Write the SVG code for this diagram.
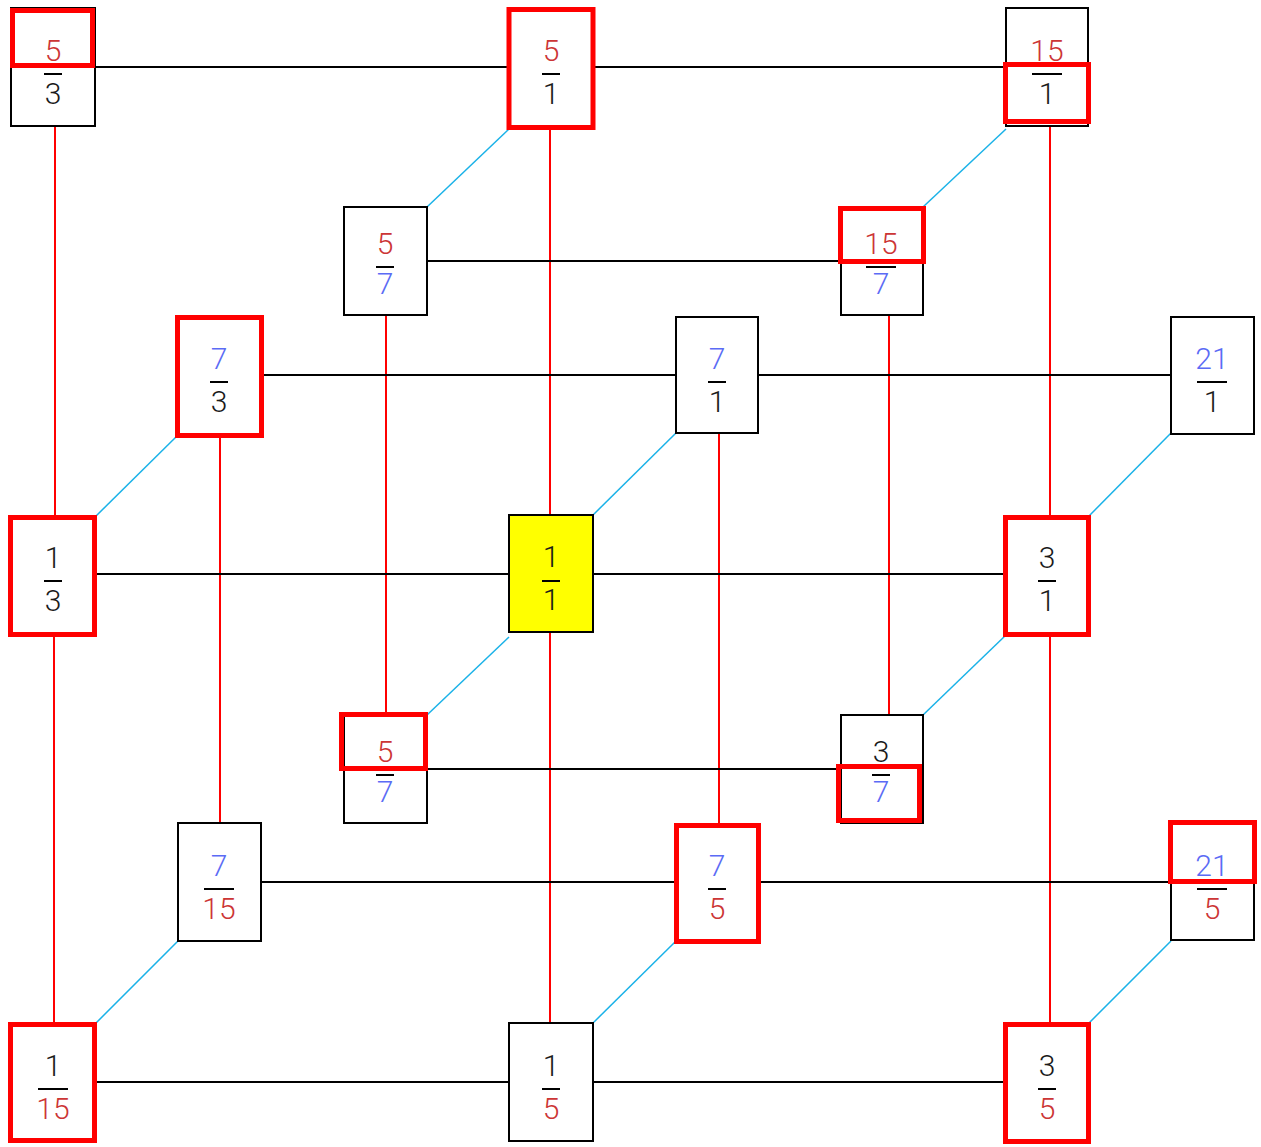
<svg xmlns="http://www.w3.org/2000/svg" width="1261" height="1147" viewBox="0 0 1261 1147">
<style>
  .box{fill:#ffffff;stroke:#000000;stroke-width:2}
  .yel{fill:#ffff00;stroke:#000000;stroke-width:2}
  .hl{fill:none;stroke:#ff0000;stroke-width:5}
  .h{stroke:#000000;stroke-width:2}
  .v{stroke:#ff0000;stroke-width:2}
  .d{stroke:#1ab2e8;stroke-width:1.5}
  .bar{stroke:#000000;stroke-width:2}
  text{font-family:Roboto,"Liberation Sans",sans-serif;font-weight:300;font-size:30px;text-anchor:middle}
  .k{fill:#1a1a1a}
  .r{fill:#cc3535}
  .b{fill:#5b6bf5}
</style>
<rect width="1261" height="1147" fill="#ffffff"/>
<g id="connectors">
  <line class="v" x1="55" y1="126" x2="55" y2="517"/>
  <line class="v" x1="54" y1="635" x2="54" y2="1024"/>
  <line class="v" x1="550" y1="128" x2="550" y2="515"/>
  <line class="v" x1="550" y1="632" x2="550" y2="1023"/>
  <line class="v" x1="1050" y1="126" x2="1050" y2="517"/>
  <line class="v" x1="1050" y1="635" x2="1050" y2="1024"/>
  <line class="v" x1="386" y1="315" x2="386" y2="715"/>
  <line class="v" x1="889" y1="315" x2="889" y2="715"/>
  <line class="v" x1="220" y1="435" x2="220" y2="823"/>
  <line class="v" x1="719" y1="433" x2="719" y2="823"/>
  <line class="h" x1="95" y1="67" x2="1006" y2="67"/>
  <line class="h" x1="427" y1="261" x2="841" y2="261"/>
  <line class="h" x1="261" y1="375" x2="1171" y2="375"/>
  <line class="h" x1="95" y1="574" x2="1006" y2="574"/>
  <line class="h" x1="427" y1="769" x2="841" y2="769"/>
  <line class="h" x1="261" y1="882" x2="1171" y2="882"/>
  <line class="h" x1="95" y1="1082" x2="1006" y2="1082"/>
  <line class="d" x1="95" y1="517" x2="178" y2="435"/>
  <line class="d" x1="509" y1="129" x2="427" y2="207"/>
  <line class="d" x1="1006" y1="129" x2="923" y2="207"/>
  <line class="d" x1="593" y1="515" x2="676" y2="433"/>
  <line class="d" x1="1088" y1="517" x2="1171" y2="433"/>
  <line class="d" x1="509" y1="637" x2="427" y2="715"/>
  <line class="d" x1="1006" y1="635" x2="923" y2="715"/>
  <line class="d" x1="95" y1="1024" x2="178" y2="941"/>
  <line class="d" x1="593" y1="1023" x2="676" y2="941"/>
  <line class="d" x1="1088" y1="1024" x2="1171" y2="941"/>
</g>
<g id="n-5-3">
  <rect class="box" x="11" y="8" width="84" height="118"/>
  <text class="r" x="53" y="61">5</text>
  <line class="bar" x1="44" y1="74" x2="62" y2="74"/>
  <text class="k" x="53" y="104">3</text>
</g>
<g id="n-5-1">
  <rect class="box" x="509" y="9" width="84" height="119"/>
  <text class="r" x="551" y="61">5</text>
  <line class="bar" x1="542" y1="74" x2="560" y2="74"/>
  <text class="k" x="551" y="104">1</text>
</g>
<g id="n-15-1">
  <rect class="box" x="1006" y="8" width="82" height="118"/>
  <text class="r" x="1047" y="61">15</text>
  <line class="bar" x1="1032" y1="74" x2="1062" y2="74"/>
  <text class="k" x="1047" y="104">1</text>
</g>
<g id="n-5-7-upper">
  <rect class="box" x="344" y="207" width="83" height="108"/>
  <text class="r" x="385" y="254">5</text>
  <line class="bar" x1="376" y1="267" x2="394" y2="267"/>
  <text class="b" x="385" y="294">7</text>
</g>
<g id="n-15-7">
  <rect class="box" x="841" y="207" width="82" height="108"/>
  <text class="r" x="881" y="254">15</text>
  <line class="bar" x1="866" y1="267" x2="896" y2="267"/>
  <text class="b" x="881" y="294">7</text>
</g>
<g id="n-7-3">
  <rect class="box" x="178" y="317" width="83" height="118"/>
  <text class="b" x="219" y="369">7</text>
  <line class="bar" x1="210" y1="382" x2="228" y2="382"/>
  <text class="k" x="219" y="412">3</text>
</g>
<g id="n-7-1">
  <rect class="box" x="676" y="317" width="82" height="116"/>
  <text class="b" x="717" y="369">7</text>
  <line class="bar" x1="708" y1="382" x2="726" y2="382"/>
  <text class="k" x="717" y="412">1</text>
</g>
<g id="n-21-1">
  <rect class="box" x="1171" y="317" width="83" height="117"/>
  <text class="b" x="1212" y="369">21</text>
  <line class="bar" x1="1197" y1="382" x2="1227" y2="382"/>
  <text class="k" x="1212" y="412">1</text>
</g>
<g id="n-1-3">
  <rect class="box" x="11" y="517" width="84" height="118"/>
  <text class="k" x="53" y="568">1</text>
  <line class="bar" x1="44" y1="581" x2="62" y2="581"/>
  <text class="k" x="53" y="611">3</text>
</g>
<g id="n-1-1">
  <rect class="yel" x="509" y="515" width="84" height="117"/>
  <text class="k" x="551" y="567">1</text>
  <line class="bar" x1="542" y1="581" x2="560" y2="581"/>
  <text class="k" x="551" y="610">1</text>
</g>
<g id="n-3-1">
  <rect class="box" x="1006" y="517" width="82" height="118"/>
  <text class="k" x="1047" y="568">3</text>
  <line class="bar" x1="1038" y1="581" x2="1056" y2="581"/>
  <text class="k" x="1047" y="611">1</text>
</g>
<g id="n-5-7-lower">
  <rect class="box" x="344" y="715" width="83" height="108"/>
  <text class="r" x="385" y="762">5</text>
  <line class="bar" x1="376" y1="775" x2="394" y2="775"/>
  <text class="b" x="385" y="802">7</text>
</g>
<g id="n-3-7">
  <rect class="box" x="841" y="715" width="82" height="108"/>
  <text class="k" x="881" y="762">3</text>
  <line class="bar" x1="872" y1="775" x2="890" y2="775"/>
  <text class="b" x="881" y="802">7</text>
</g>
<g id="n-7-15">
  <rect class="box" x="178" y="823" width="83" height="118"/>
  <text class="b" x="219" y="876">7</text>
  <line class="bar" x1="204" y1="889" x2="234" y2="889"/>
  <text class="r" x="219" y="919">15</text>
</g>
<g id="n-7-5">
  <rect class="box" x="676" y="825" width="82" height="117"/>
  <text class="b" x="717" y="876">7</text>
  <line class="bar" x1="708" y1="889" x2="726" y2="889"/>
  <text class="r" x="717" y="919">5</text>
</g>
<g id="n-21-5">
  <rect class="box" x="1171" y="823" width="83" height="117"/>
  <text class="b" x="1212" y="876">21</text>
  <line class="bar" x1="1197" y1="889" x2="1227" y2="889"/>
  <text class="r" x="1212" y="919">5</text>
</g>
<g id="n-1-15">
  <rect class="box" x="11" y="1024" width="84" height="118"/>
  <text class="k" x="53" y="1076">1</text>
  <line class="bar" x1="38" y1="1089" x2="68" y2="1089"/>
  <text class="r" x="53" y="1119">15</text>
</g>
<g id="n-1-5">
  <rect class="box" x="509" y="1023" width="84" height="118"/>
  <text class="k" x="551" y="1076">1</text>
  <line class="bar" x1="542" y1="1089" x2="560" y2="1089"/>
  <text class="r" x="551" y="1119">5</text>
</g>
<g id="n-3-5">
  <rect class="box" x="1006" y="1024" width="82" height="118"/>
  <text class="k" x="1047" y="1076">3</text>
  <line class="bar" x1="1038" y1="1089" x2="1056" y2="1089"/>
  <text class="r" x="1047" y="1119">5</text>
</g>
<g id="highlights">
  <rect class="hl" x="12.5" y="10.5" width="80" height="55"/>
  <rect class="hl" x="509" y="9.5" width="84" height="118"/>
  <rect class="hl" x="1005.5" y="64.5" width="83" height="57"/>
  <rect class="hl" x="840.5" y="208.5" width="83" height="53"/>
  <rect class="hl" x="177.5" y="317.5" width="84" height="118"/>
  <rect class="hl" x="10.5" y="517.5" width="84" height="117"/>
  <rect class="hl" x="1005.5" y="517.5" width="83" height="117"/>
  <rect class="hl" x="341.5" y="714.5" width="84" height="54"/>
  <rect class="hl" x="838.5" y="766.5" width="81" height="54"/>
  <rect class="hl" x="676.5" y="825.5" width="82" height="116"/>
  <rect class="hl" x="1170.5" y="822.5" width="84" height="59"/>
  <rect class="hl" x="10.5" y="1024.5" width="84" height="116"/>
  <rect class="hl" x="1005.5" y="1024.5" width="83" height="117"/>
</g>
</svg>
